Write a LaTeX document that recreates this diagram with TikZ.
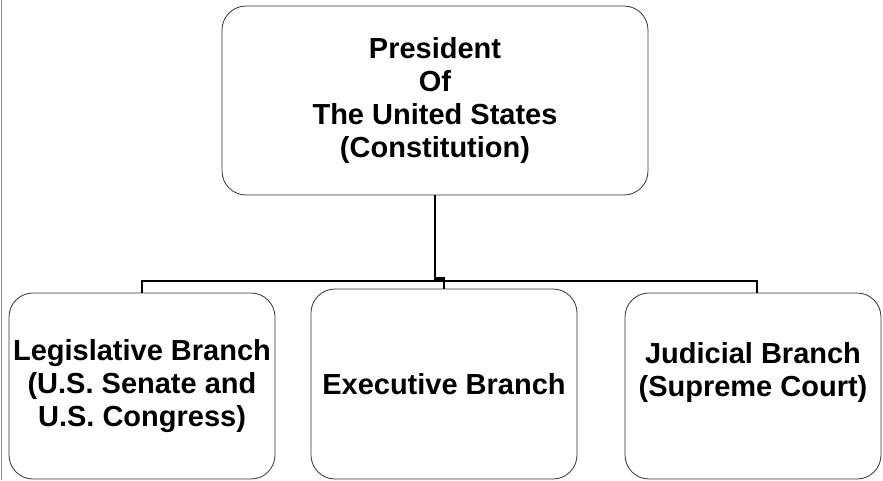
\documentclass[tikz,border=0pt]{standalone}
\usepackage{fontspec}
\setmainfont{Liberation Sans}
\usepackage{tikz}
\usetikzlibrary{positioning,calc}
\definecolor{boxline}{HTML}{333333}
\definecolor{edgegray}{HTML}{888888}

\begin{document}
\begin{tikzpicture}[x=1pt, y=-1pt,
  office/.style={draw=boxline, rounded corners=24pt, fill=white, line width=0.8pt, align=center, inner sep=2pt,
    font=\fontsize{29}{33}\selectfont\bfseries},
  branch/.style={office, minimum width=266pt, minimum height=186pt},
  link/.style={line width=2.5pt, color=black}
]
  \useasboundingbox (0,0) rectangle (883,480);
  \draw[edgegray, line width=1.5pt] (1.5,0) -- (1.5,480);

  \node[office, minimum width=426pt, minimum height=189pt] (president) at (435,100.5) {President\\Of\\The United States\\(Constitution)};
  \node[branch] (legislative) at (142,386) {Legislative Branch\\(U.S. Senate and\\U.S. Congress)};
  \node[branch, minimum height=190pt] (executive) at (444,384) {Executive Branch};
  \node[branch, minimum width=256pt] (judicial) at (753,386) {Judicial Branch\\(Supreme Court)\\~};
  \coordinate (bus) at (0,281);

  \draw[link] (president.south) -- ++(0,83) -| (executive.north);
  \draw[link] (legislative.north) |- ($(judicial.north |- bus)+(4,0)$) -- ($(judicial.north)+(4,0)$);
\end{tikzpicture}
\end{document}
